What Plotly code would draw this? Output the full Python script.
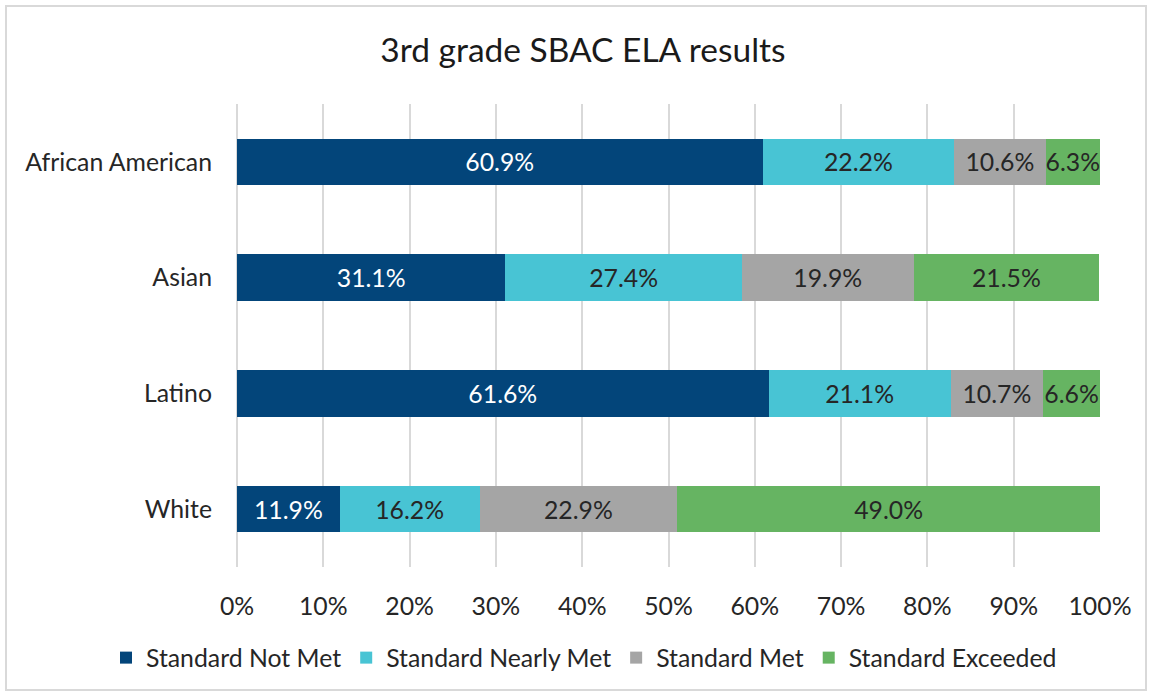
import plotly.graph_objects as go

categories = ["African American", "Asian", "Latino", "White"]
series_names = ["Standard Not Met", "Standard Nearly Met", "Standard Met", "Standard Exceeded"]
not_met = [60.9, 31.1, 61.6, 11.9]
nearly_met = [22.2, 27.4, 21.1, 16.2]
met = [10.6, 19.9, 10.7, 22.9]
exceeded = [6.3, 21.5, 6.6, 49.0]
tick_vals = [0, 10, 20, 30, 40, 50, 60, 70, 80, 90, 100]
tick_text = ["0%", "10%", "20%", "30%", "40%", "50%", "60%", "70%", "80%", "90%", "100%"]

colors = ["#03457A", "#48C4D4", "#A5A5A5", "#66B462"]
text_colors = ["#FFFFFF", "#262626", "#262626", "#262626"]
FONT = "Lato"
FS = 24.8

fig = go.Figure()
for name, vals, c, tc in zip(series_names, [not_met, nearly_met, met, exceeded], colors, text_colors):
    fig.add_trace(go.Bar(
        y=categories, x=vals, name=name, orientation="h",
        marker=dict(color=c, line=dict(width=0)),
        text=[f"{v:.1f}%" for v in vals],
        textposition="inside", insidetextanchor="middle",
        textfont=dict(family=FONT, size=FS, color=tc),
        constraintext="none",
    ))

W, H = 1152, 696
L, R, T, B = 237, 52, 104, 129
pw, ph = W - L - R, H - T - B

fig.update_layout(
    width=W, height=H,
    barmode="stack", bargap=0.6,
    paper_bgcolor="white", plot_bgcolor="white",
    margin=dict(l=L, r=R, t=T, b=B, autoexpand=False),
    title=dict(text="3rd grade SBAC ELA results", x=0.506, xanchor="center",
               y=1 - 50 / H, yanchor="middle",
               font=dict(family=FONT, size=33.5, color="#1a1a1a")),
    xaxis=dict(range=[0, 100], tickvals=tick_vals, ticktext=tick_text,
               showgrid=True, gridcolor="#D9D9D9", gridwidth=2,
               zeroline=True, zerolinecolor="#D9D9D9", zerolinewidth=2,
               showline=False, ticks="",
               tickfont=dict(family=FONT, size=FS, color="#262626"),
               ticklabelstandoff=22),
    yaxis=dict(autorange="reversed", showgrid=False, showline=False, ticks="",
               tickfont=dict(family=FONT, size=FS, color="#262626"),
               ticklabelstandoff=24),
    legend=dict(orientation="h", xref="paper", yref="paper",
                x=(106 - L) / pw, xanchor="left", y=(567 - 658) / ph, yanchor="middle",
                bgcolor="rgba(0,0,0,0)",
                font=dict(family=FONT, size=FS, color="#262626"),
                traceorder="normal", itemwidth=30),
    showlegend=True,
    shapes=[dict(type="rect", xref="paper", yref="paper",
                 x0=(6 - L) / pw, x1=(1146 - L) / pw,
                 y0=(567 - 690) / ph, y1=(567 - 6) / ph,
                 line=dict(color="#D9D9D9", width=2), fillcolor="rgba(0,0,0,0)", layer="below")],
)

fig.write_html("out.html", config={"displayModeBar": False},
               post_script="document.body.style.margin='0';document.body.style.overflow='hidden';")
